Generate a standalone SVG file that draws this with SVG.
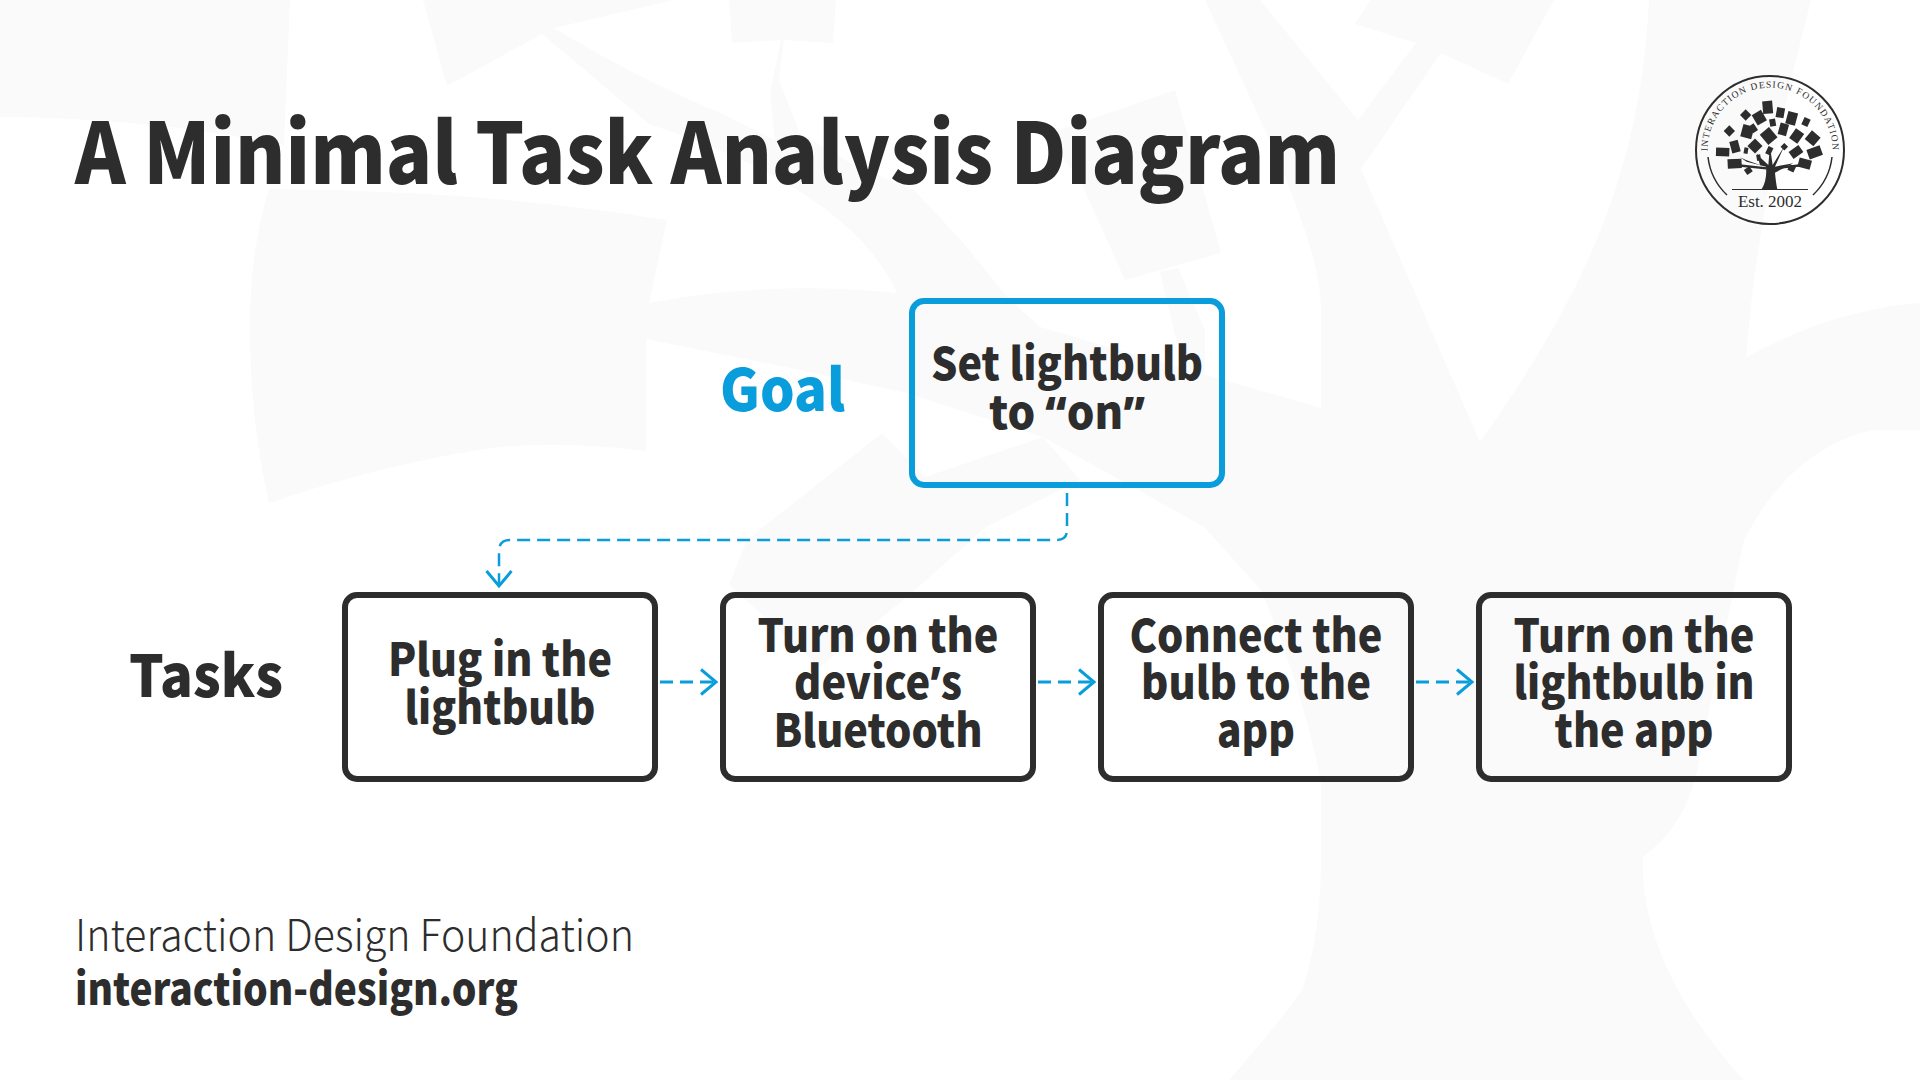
<svg xmlns="http://www.w3.org/2000/svg" width="1920" height="1080" viewBox="0 0 1920 1080">
<style>
text{font-family:"Noto Sans CJK SC","Source Sans Pro","Noto Sans",sans-serif;fill:#2d2d2d}
.b{font-weight:900}
.t{font-size:45px;font-weight:900;text-anchor:middle}
.q{font-family:"Noto Sans",sans-serif}
.box{fill:none;stroke:#2d2d2d;stroke-width:6}
.goal{fill:none;stroke:#099ddb;stroke-width:6}
.c{fill:none;stroke:#099ddb;stroke-width:3;stroke-dasharray:13 7}
.thin{stroke-width:2.500}
.bg{fill:#fafafa}
.s{font-family:"Liberation Serif","DejaVu Serif",serif}
</style>
<defs>
<marker id="arrow" markerUnits="userSpaceOnUse" markerWidth="22" markerHeight="32" refX="18" refY="16" orient="auto" viewBox="0 0 22 32"><path d="M3,3.5L18,16L3,28.5" fill="none" stroke="#099ddb" stroke-width="3"/></marker>
<path id="arcT" d="M1708,158A62.500,62.500 0 1 1 1832,158"/>
</defs>
<rect width="1920" height="1080" fill="#fff"/>
<g id="background">
<path class="bg" d="M0,0H290L284,145Q150,118 0,117Z"/>
<path class="bg" d="M1205,0H1260L1358,120L1416,43L1355,24L1370,0H1554L1508,84L1441,53L1361,169L1480,442C1580,300 1640,180 1649,0H1811C1780,120 1755,240 1746,358Q1830,310 1920,303V430H1872Q1790,450 1744,540Q1715,680 1695,781Q1680,830 1643,857C1640,920 1670,1000 1744,1080H1229Q1290,1010 1303,988Q1321,930 1321,860V781Q1300,680 1261,590L1204,527L1043,437L907,393L800,370L646,339V451Q560,440 490,448Q380,465 269,503Q250,420 250,327Q250,250 269,189Q480,190 667,220L649,303Q770,280 897,293Q850,190 649,124L542,34L447,86L423,0H674L554,28Q640,80 723,114L775,140L770,93L781,40L732,43L729,0H836L833,43L784,40L779,80L800,133L857,167L914,190L961,240L1007,297L1040,327L1321,408V310C1321,240 1260,120 1205,0Z"/>
<path class="bg" d="M1175,90L1221,253L1125,280L1080,180L1045,135Z"/>
<path class="bg" d="M1160,272L1178,268L1205,330V402L1175,335Z"/>
<path class="bg" d="M882,433L925,477L1043,437L1080,480L986,527L906,598L820,667L729,585L747,540Z"/>
</g>
<g id="title"><text class="b" x="75" y="184" font-size="84" textLength="1265" lengthAdjust="spacingAndGlyphs">A Minimal Task Analysis Diagram</text></g>
<g id="logo">
<circle cx="1770" cy="150" r="74" fill="none" stroke="#2d2d2d" stroke-width="2"/>
<path d="M1708,157A62,62 0 0 0 1727,195M1832,157A62,62 0 0 1 1813,195" fill="none" stroke="#2d2d2d" stroke-width="1.500"/>
<path d="M1732,189.500H1808" stroke="#2d2d2d" stroke-width="1.200"/>
<text class="s" font-size="9.500" letter-spacing="1.150"><textPath href="#arcT" startOffset="50%" text-anchor="middle">INTERACTION DESIGN FOUNDATION</textPath></text>
<text class="s" x="1770" y="207" font-size="17" text-anchor="middle">Est. 2002</text>
<g transform="translate(1660,50) scale(.3333)" fill="#2d2d2d">
<path d="M305,418Q322,390 318,350L260,335L240,322L258,330L300,345L290,310L296,318L325,345L330,290L338,345L372,290L345,350L400,340L345,368Q348,400 352,418Z"/>
<path d="M320,355L225,345M342,355L430,345" stroke="#2d2d2d" stroke-width="7"/>
<g id="leaves">
<rect x="168" y="293" width="40" height="26" transform="rotate(2 188 306)"/>
<rect x="212" y="272" width="26" height="36" transform="rotate(-15 225 290)"/>
<rect x="245" y="226" width="34" height="38" transform="rotate(15 262 245)"/>
<rect x="196" y="231" width="24" height="24" transform="rotate(45 208 243)"/>
<rect x="245" y="183" width="24" height="24" transform="rotate(45 257 195)"/>
<rect x="282" y="185" width="32" height="36" transform="rotate(-30 298 203)"/>
<rect x="308" y="153" width="30" height="38" transform="rotate(-5 323 172)"/>
<rect x="349" y="173" width="24" height="30" transform="rotate(10 361 188)"/>
<rect x="380" y="186" width="30" height="38" transform="rotate(15 395 205)"/>
<rect x="428" y="204" width="20" height="24" transform="rotate(25 438 216)"/>
<rect x="441" y="248" width="34" height="34" transform="rotate(40 458 265)"/>
<rect x="395" y="240" width="30" height="36" transform="rotate(35 410 258)"/>
<rect x="357" y="220" width="26" height="36" transform="rotate(15 370 238)"/>
<rect x="329" y="207" width="18" height="22" transform="rotate(-10 338 218)"/>
<rect x="271" y="223" width="18" height="24" transform="rotate(-35 280 235)"/>
<rect x="308" y="238" width="36" height="40" transform="rotate(-40 326 258)"/>
<rect x="269" y="272" width="32" height="32" transform="rotate(45 285 288)"/>
<rect x="252" y="293" width="12" height="18" transform="rotate(10 258 302)"/>
<rect x="290" y="314" width="12" height="18" transform="rotate(-10 296 323)"/>
<rect x="320" y="290" width="16" height="24" transform="rotate(25 328 302)"/>
<rect x="365" y="282" width="16" height="16" transform="rotate(45 373 290)"/>
<rect x="390" y="293" width="36" height="26" transform="rotate(-35 408 306)"/>
<rect x="443" y="292" width="42" height="30" transform="rotate(-20 464 307)"/>
<rect x="415" y="327" width="38" height="28" transform="rotate(15 434 341)"/>
<rect x="385" y="346" width="20" height="18" transform="rotate(25 395 355)"/>
<rect x="203" y="327" width="42" height="28" transform="rotate(-3 224 341)"/>
<rect x="255" y="353" width="20" height="18" transform="rotate(-35 265 362)"/>
</g>
</g>
</g>
<g id="connectors">
<path class="c thin" d="M1067,493V530Q1067,540 1057,540H510Q499,540 499,551V586" marker-end="url(#arrow)"/>
<path class="c" d="M660,682H716" marker-end="url(#arrow)"/>
<path class="c" d="M1038,682H1094" marker-end="url(#arrow)"/>
<path class="c" d="M1416,682H1472" marker-end="url(#arrow)"/>
</g>
<g id="goal-label"><text class="b" x="720" y="411" font-size="58" textLength="125" lengthAdjust="spacingAndGlyphs" style="fill:#099ddb">Goal</text></g>
<g id="goal"><rect class="goal" x="912" y="301" width="310" height="184" rx="12"/>
<text class="t" x="1067" y="380" textLength="272" lengthAdjust="spacingAndGlyphs">Set lightbulb</text><text class="t" x="1067" y="429" textLength="156" lengthAdjust="spacingAndGlyphs">to <tspan class="q">“</tspan>on<tspan class="q">”</tspan></text></g>
<g id="tasks-label"><text class="b" x="129" y="697" font-size="58" textLength="154" lengthAdjust="spacingAndGlyphs">Tasks</text></g>
<g id="task1"><rect class="box" x="345" y="595" width="310" height="184" rx="12"/>
<text class="t" x="500" y="676" textLength="224" lengthAdjust="spacingAndGlyphs">Plug in the</text><text class="t" x="500" y="724" textLength="191" lengthAdjust="spacingAndGlyphs">lightbulb</text></g>
<g id="task2"><rect class="box" x="723" y="595" width="310" height="184" rx="12"/>
<text class="t" x="878" y="652" textLength="241" lengthAdjust="spacingAndGlyphs">Turn on the</text><text class="t" x="878" y="699" textLength="168" lengthAdjust="spacingAndGlyphs">device<tspan class="q">’</tspan>s</text><text class="t" x="878" y="747" textLength="209" lengthAdjust="spacingAndGlyphs">Bluetooth</text></g>
<g id="task3"><rect class="box" x="1101" y="595" width="310" height="184" rx="12"/>
<text class="t" x="1256" y="652" textLength="253" lengthAdjust="spacingAndGlyphs">Connect the</text><text class="t" x="1256" y="699" textLength="230" lengthAdjust="spacingAndGlyphs">bulb to the</text><text class="t" x="1256" y="747" textLength="78" lengthAdjust="spacingAndGlyphs">app</text></g>
<g id="task4"><rect class="box" x="1479" y="595" width="310" height="184" rx="12"/>
<text class="t" x="1634" y="652" textLength="241" lengthAdjust="spacingAndGlyphs">Turn on the</text><text class="t" x="1634" y="699" textLength="241" lengthAdjust="spacingAndGlyphs">lightbulb in</text><text class="t" x="1634" y="747" textLength="159" lengthAdjust="spacingAndGlyphs">the app</text></g>
<g id="footer"><text x="75" y="951" font-size="44" font-weight="300" textLength="559" lengthAdjust="spacingAndGlyphs">Interaction Design Foundation</text>
<text class="b" x="75" y="1005" font-size="44" textLength="443" lengthAdjust="spacingAndGlyphs">interaction-design.org</text></g>
</svg>
